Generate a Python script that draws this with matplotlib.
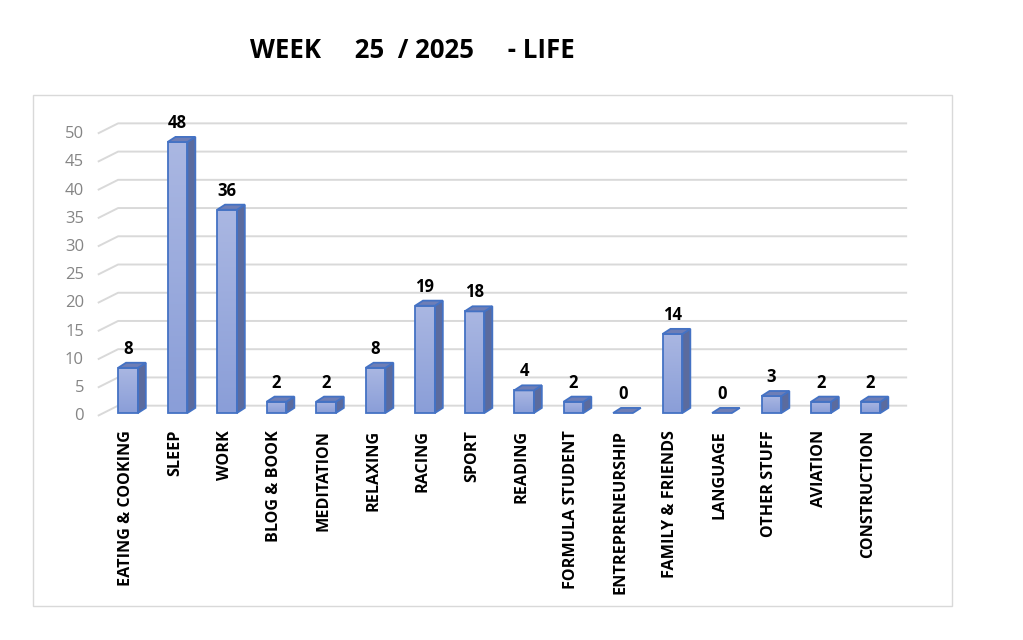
import matplotlib.pyplot as plt
import numpy as np
from matplotlib.colors import LinearSegmentedColormap
from matplotlib.patches import Polygon, Rectangle

categories = ["EATING & COOKING", "SLEEP", "WORK", "BLOG & BOOK", "MEDITATION",
              "RELAXING", "RACING", "SPORT", "READING", "FORMULA STUDENT",
              "ENTREPRENEURSHIP", "FAMILY & FRIENDS", "LANGUAGE", "OTHER STUFF",
              "AVIATION", "CONSTRUCTION"]
hours = [8, 48, 36, 2, 2, 8, 19, 18, 4, 2, 0, 14, 0, 3, 2, 2]
yticks = [0, 5, 10, 15, 20, 25, 30, 35, 40, 45, 50]

FONT = ["Open Sans", "DejaVu Sans"]

fig = plt.figure(figsize=(10.23, 6.4), dpi=100)
ax = fig.add_axes([0, 0, 1, 1])
ax.set_axis_off()

# chart box
fig.patches.append(Rectangle((33 / 1023, 1 - 606 / 640), 919 / 1023, 511 / 640,
                             transform=fig.transFigure, fill=False,
                             edgecolor="#d9d9d9", linewidth=1.0))

# gridlines on the back wall (oblique floor part + horizontal)
gx0, gdx, gdy, gx1 = -0.61, 0.41, 1.8, 15.74
for v in yticks:
    ax.plot([gx0, gx0 + gdx, gx1], [v - 0.5, v - 0.5 + gdy, v - 0.5 + gdy],
            color="#d9d9d9", linewidth=1.4, zorder=1, solid_capstyle="butt")
    ax.text(-0.89, v - 0.6, str(v), ha="right", va="center", fontsize=12,
            color="#858585", family=FONT)

# 3D columns
w, dx, dy = 0.40, 0.16, 0.9
grad = LinearSegmentedColormap.from_list("g", ["#8a9ed8", "#aab7e2"])
edge = "#4472c4"
for i, (cat, v) in enumerate(zip(categories, hours)):
    x0, x1 = i - w / 2, i + w / 2
    if v > 0:
        ax.imshow(np.linspace(0, 1, 100).reshape(-1, 1), cmap=grad,
                  origin="lower", extent=[x0, x1, 0, v], aspect="auto",
                  zorder=3)
        ax.add_patch(Rectangle((x0, 0), w, v, fill=False, edgecolor=edge,
                               linewidth=1.3, zorder=4))
        ax.add_patch(Polygon([(x1, 0), (x1 + dx, dy), (x1 + dx, v + dy), (x1, v)],
                             facecolor="#5b6b9e", edgecolor=edge,
                             linewidth=1.3, zorder=3))
    ax.add_patch(Polygon([(x0, v), (x1, v), (x1 + dx, v + dy), (x0 + dx, v + dy)],
                         facecolor="#6e7eb6", edgecolor=edge, linewidth=1.3,
                         zorder=4))
    ax.text(i, v + 3.4, str(v), ha="center", va="center", fontsize=12,
            fontweight="bold", family=FONT)
    ax.text(i - 0.05, -3.0, cat, ha="center", va="top", rotation=90,
            fontsize=11.6, fontweight="bold", family=FONT)

ax.set_xlim(-128 / 49.5, (1023 - 128) / 49.5)
ax.set_ylim((413 - 640) / 5.646, 413 / 5.646)

fig.text(0.403, 1 - 51 / 640, "WEEK     25  / 2025     - LIFE", ha="center",
         va="center", fontsize=18.5, fontweight="bold", family=FONT)

fig.savefig("out.png", dpi=100)
